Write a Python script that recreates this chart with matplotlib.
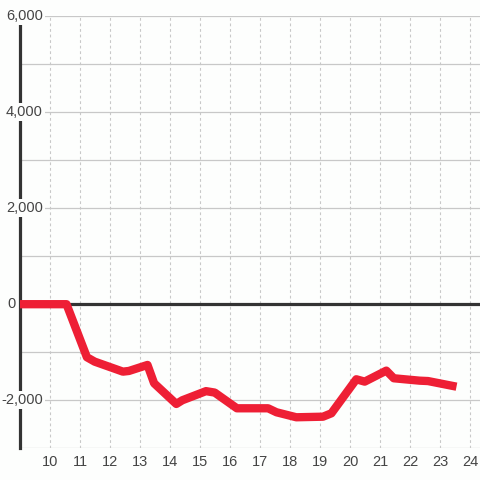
import matplotlib.pyplot as plt
from matplotlib.transforms import blended_transform_factory

plt.rcParams['font.family'] = ['Liberation Sans', 'DejaVu Sans']

hours = [9.0, 10.55, 11.23, 11.49, 12.43, 12.63, 13.25, 13.47, 14.21, 14.41,
         15.2, 15.49, 16.23, 17.27, 17.55, 18.21, 19.1, 19.38, 20.21, 20.49,
         21.21, 21.46, 22.32, 22.6, 23.55]
values = [0, 0, -1104, -1196, -1404, -1390, -1265, -1646, -2077, -2000,
          -1810, -1840, -2167, -2167, -2250, -2354, -2342, -2271, -1563, -1612,
          -1383, -1542, -1592, -1600, -1717]

x_ticks = list(range(10, 25))
y_grid = list(range(-3000, 6001, 1000))
y_labels = [6000, 4000, 2000, 0, -2000]

bg = '#fdfefd'
fig = plt.figure(figsize=(4.8, 4.8), dpi=100, facecolor=bg)
ax = fig.add_axes([20 / 480, 1 - 448.3 / 480, 460 / 480, (448.3 - 16) / 480])
ax.set_facecolor(bg)
ax.set_xlim(9.0, 9.0 + 460 / 30)
ax.set_ylim(-3000, 6000)

for y in y_grid:
    ax.axhline(y, color='#c8c8c8', lw=0.9, zorder=1)
for x in x_ticks:
    ax.axvline(x, color='#c8c8c8', lw=0.8, ls=(0, (2.5, 2.5)), zorder=1)
ax.axhline(0, color='#333333', lw=2.3, zorder=2)

ax.plot(hours, values, color='#ee1f35', lw=6, solid_joinstyle='round',
        solid_capstyle='butt', zorder=3)

for s in ['top', 'right', 'bottom']:
    ax.spines[s].set_visible(False)
ax.spines['left'].set_color('#333333')
ax.spines['left'].set_linewidth(2.3)
ax.spines['left'].set_zorder(2.5)

ax.set_yticks([])
ax.set_xticks(x_ticks)
ax.set_xticklabels([str(x) for x in x_ticks])
ax.tick_params(axis='x', length=0, pad=5, labelsize=10.5, labelcolor='#444444')

tr = blended_transform_factory(ax.transAxes, ax.transData)
for y in y_labels:
    if y == 0:
        xpos, box = -0.01, None
    else:
        xpos = 23 / 460
        box = dict(facecolor=bg, edgecolor='none', pad=1.5)
    ax.text(xpos, y, f'{y:,}', transform=tr, ha='right', va='center',
            fontsize=10.5, color='#444444', bbox=box, zorder=5, clip_on=False)

fig.savefig('out.png', dpi=100, facecolor=bg)
